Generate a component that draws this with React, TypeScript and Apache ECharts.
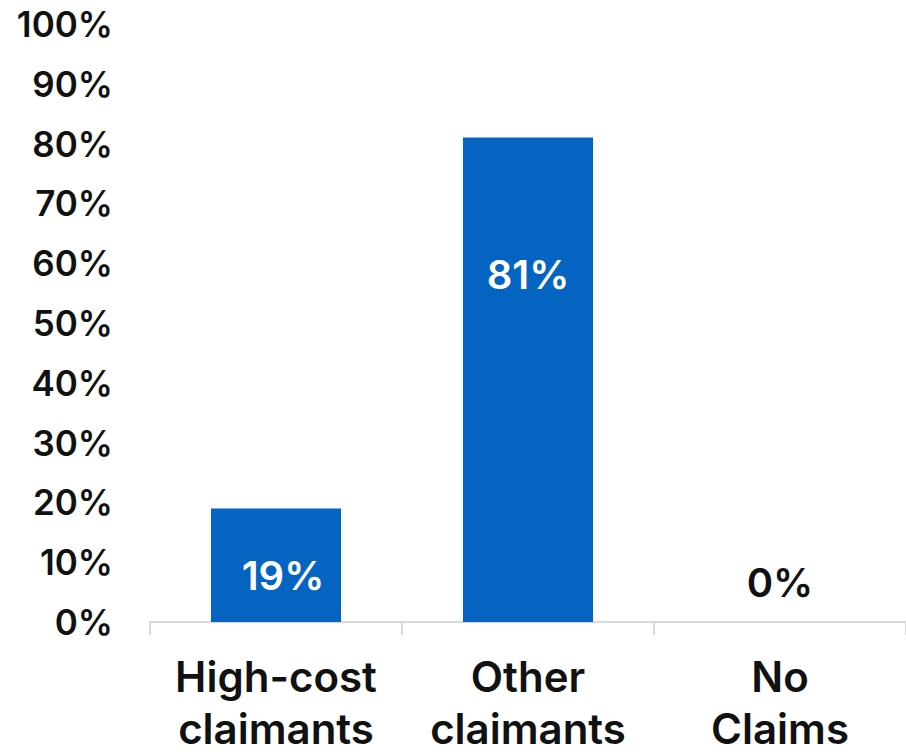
import React, { useEffect, useRef } from "react";
import * as echarts from "echarts";

const categories = ["High-cost\nclaimants", "Other\nclaimants", "No\nClaims"];
const shares = [19, 81, 0];
const yTicks = [0, 10, 20, 30, 40, 50, 60, 70, 80, 90, 100];

const FONT = "Inter, 'Open Sans', sans-serif";
const BLUE = "#0563C1";

export default function App() {
  const ref = useRef<HTMLDivElement>(null);

  useEffect(() => {
    if (!ref.current) return;
    const chart = echarts.init(ref.current, undefined, { renderer: "svg" });

    const labelStyles = [
      { position: "inside", offset: [7, 10], color: "#ffffff" },
      { position: "inside", offset: [0, -105], color: "#ffffff" },
      { position: "top", distance: 20, color: "#111111" },
    ];

    chart.setOption({
      animation: false,
      backgroundColor: "#ffffff",
      grid: { left: 150, right: -9, top: 24, bottom: 123, containLabel: false },
      xAxis: {
        type: "category",
        data: categories,
        axisLine: { show: true, lineStyle: { color: "#d9d9d9", width: 2 } },
        axisTick: { show: true, length: 13, lineStyle: { color: "#d9d9d9", width: 2 } },
        axisLabel: {
          interval: 0,
          margin: 28,
          fontFamily: FONT,
          fontSize: 42,
          fontWeight: 600,
          lineHeight: 52,
          color: "#111111",
        },
      },
      yAxis: {
        type: "value",
        min: 0,
        max: yTicks[yTicks.length - 1],
        interval: 10,
        axisLine: { show: false },
        axisTick: { show: false },
        splitLine: { show: false },
        axisLabel: {
          margin: 37,
          fontFamily: FONT,
          fontSize: 35,
          fontWeight: 600,
          color: "#111111",
          formatter: (v: number) => `${v}%`,
        },
      },
      series: [
        {
          type: "bar",
          barWidth: 130,
          itemStyle: { color: BLUE },
          data: shares.map((v, i) => ({
            value: v,
            label: {
              show: true,
              formatter: `${v}%`,
              fontFamily: FONT,
              fontSize: 40,
              fontWeight: 600,
              ...labelStyles[i],
            },
          })),
        },
      ],
    });

    return () => chart.dispose();
  }, []);

  return (
    <div
      ref={ref}
      style={{ position: "fixed", left: 0, top: 0, width: 906, height: 754 }}
    />
  );
}
